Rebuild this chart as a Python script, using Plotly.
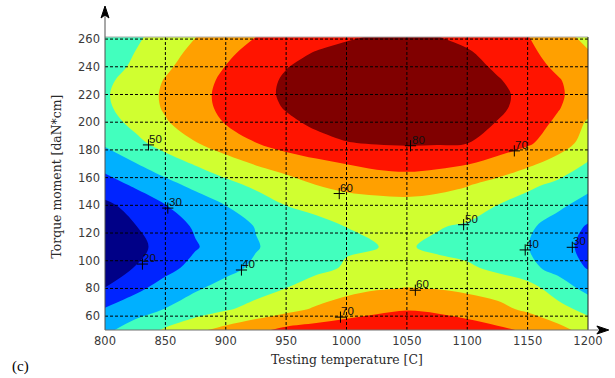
import plotly.graph_objects as go

# ---- data ----
temperature = [800, 825, 850, 875, 900, 925, 950, 975, 1000, 1025, 1050,
               1075, 1100, 1125, 1150, 1175, 1200]
torque = [50, 65, 80, 95, 110, 125, 140, 155, 170, 185, 200, 210, 220, 230, 240, 250, 262]
response = [
    [37.8, 44.6, 51.3, 57.9, 63.1, 67.6, 72.5, 74.4, 75.8, 76.7, 77.0, 76.0, 74.5, 72.0, 68.6, 63.0, 56.5],  # 50
    [30.8, 35.7, 40.3, 44.7, 49.0, 53.1, 57.1, 61.2, 65.0, 67.8, 69.5, 68.5, 66.0, 62.4, 58.4, 53.4, 47.0],  # 65
    [20.3, 27.8, 33.8, 39.0, 42.9, 46.5, 50.1, 54.0, 57.0, 59.2, 60.3, 59.6, 58.0, 56.5, 54.0, 45.4, 37.0],  # 80
    [13.3, 20.3, 27.2, 32.8, 37.5, 41.5, 44.7, 47.8, 50.8, 52.6, 53.5, 52.7, 51.5, 47.8, 42.7, 36.5, 29.3],  # 95
    [11.4, 17.4, 23.3, 29.3, 34.4, 39.4, 43.5, 46.6, 49.2, 49.95, 50.7, 48.5, 46.5, 43.2, 40.3, 33.7, 27.1],  # 110
    [13.8, 19.7, 25.5, 31.1, 35.8, 40.4, 43.7, 47.0, 50.1, 51.3, 51.9, 50.6, 49.0, 45.5, 41.6, 36.3, 29.1],  # 125
    [18.0, 23.3, 29.8, 34.9, 40.1, 45.0, 50.1, 52.8, 55.0, 56.3, 57.0, 56.0, 54.0, 49.9, 45.8, 41.8, 36.5],  # 140
    [25.6, 31.6, 37.3, 42.5, 47.5, 52.0, 56.3, 60.2, 63.0, 64.2, 64.5, 63.2, 60.7, 56.8, 52.2, 48.0, 42.6],  # 155
    [33.8, 39.6, 45.3, 50.8, 55.9, 60.7, 64.0, 67.5, 70.2, 72.3, 73.5, 72.4, 70.5, 66.5, 61.8, 56.5, 49.2],  # 170
    [41.5, 47.5, 53.9, 59.6, 65.1, 69.9, 74.5, 77.5, 79.7, 80.6, 81.0, 80.8, 80.2, 75.8, 71.5, 64.5, 56.5],  # 185
    [46.0, 52.6, 59.2, 65.1, 70.6, 74.6, 78.4, 81.6, 83.5, 84.4, 84.8, 84.0, 82.5, 79.8, 75.5, 68.2, 58.9],  # 200
    [48.3, 54.5, 61.0, 66.7, 72.1, 76.5, 80.5, 83.4, 85.4, 86.4, 86.6, 85.7, 84.0, 81.3, 77.6, 70.7, 63.0],  # 210
    [49.0, 55.0, 61.4, 67.1, 72.5, 77.2, 81.4, 84.2, 86.3, 87.3, 87.4, 86.4, 84.6, 81.6, 78.0, 71.5, 65.0],  # 220
    [48.0, 54.1, 60.6, 66.3, 71.9, 76.8, 81.1, 83.9, 86.1, 87.2, 87.3, 86.3, 84.3, 80.7, 76.7, 70.8, 65.0],  # 230
    [45.3, 51.8, 58.4, 64.4, 70.2, 75.2, 79.7, 82.6, 84.8, 86.0, 86.3, 85.2, 83.0, 78.7, 73.7, 68.4, 63.0],  # 240
    [44.0, 50.2, 56.5, 62.5, 68.2, 73.2, 77.6, 80.5, 82.6, 84.1, 84.6, 83.4, 81.0, 76.8, 72.0, 66.5, 60.8],  # 250
    [43.0, 48.4, 53.8, 59.8, 64.9, 69.9, 74.0, 76.7, 78.8, 80.6, 81.5, 80.1, 77.5, 74.2, 70.3, 63.8, 57.2],  # 262
]

level_start, level_end, level_step = 20, 80, 10
band_colors = [
    "rgb(0,0,135)", "rgb(0,36,255)", "rgb(0,176,255)", "rgb(66,255,190)",
    "rgb(208,255,48)", "rgb(255,160,0)", "rgb(255,20,0)", "rgb(128,0,0)",
]

label_x = [836, 852, 831, 913, 994, 1053, 1139, 1097, 1148, 1187, 1057, 995]
label_y = [183.6, 138, 97.6, 93.3, 148.5, 183, 179.3, 126, 107.8, 109.7, 78.7, 59.3]
label_text = ["50", "30", "20", "40", "60", "80", "70", "50", "40", "30", "60", "70"]

x_ticks = [800, 850, 900, 950, 1000, 1050, 1100, 1150, 1200]
y_ticks = [60, 80, 100, 120, 140, 160, 180, 200, 220, 240, 260]

x_title = "Testing temperature [C]"
y_title = "Torque moment [daN*cm]"
panel_tag = "(c)"

# ---- figure ----
n = len(band_colors) - 1
colorscale = [[i / n, c] for i, c in enumerate(band_colors)]

fig = go.Figure()
fig.add_trace(go.Contour(
    x=temperature, y=torque, z=response,
    autocontour=False,
    contours=dict(start=level_start, end=level_end, size=level_step,
                  coloring="fill", showlines=False),
    colorscale=colorscale, showscale=False,
    line=dict(width=0, smoothing=1.0),
    hoverinfo="skip",
))
fig.add_trace(go.Scatter(
    x=label_x, y=label_y, mode="markers",
    marker=dict(symbol="cross-thin-open", size=8,
                line=dict(width=1, color="black"), color="black"),
    hoverinfo="skip", showlegend=False,
))

shapes = []
grid_line = dict(color="black", width=1, dash="3px,2px")
for xv in x_ticks[1:-1]:
    shapes.append(dict(type="line", xref="x", yref="paper", x0=xv, x1=xv,
                       y0=0, y1=1, line=grid_line, layer="above"))
for yv in y_ticks:
    shapes.append(dict(type="line", xref="paper", yref="y", x0=0, x1=1,
                       y0=yv, y1=yv, line=grid_line, layer="above"))
# frame
shapes.append(dict(type="line", xref="paper", yref="paper", x0=0, x1=1, y0=1, y1=1,
                   line=dict(color="#a8a8a8", width=1), layer="above"))
shapes.append(dict(type="line", xref="paper", yref="paper", x0=1, x1=1, y0=0, y1=1,
                   line=dict(color="#202020", width=1), layer="above"))
# axes with arrows
shapes.append(dict(type="line", xref="paper", yref="paper", x0=0, x1=0, y0=0, y1=1.09,
                   line=dict(color="#505050", width=1), layer="above"))
shapes.append(dict(type="line", xref="paper", yref="paper", x0=0, x1=1.035, y0=0, y1=0,
                   line=dict(color="#707070", width=1), layer="above"))
shapes.append(dict(type="path", xref="paper", yref="paper",
                   path="M 0 1.1058 L -0.0082 1.0648 L 0 1.0751 L 0.0082 1.0648 Z",
                   fillcolor="black", line=dict(color="black", width=1), layer="above"))
shapes.append(dict(type="path", xref="paper", yref="paper",
                   path="M 1.043 0 L 1.0184 0.0137 L 1.0246 0 L 1.0184 -0.0137 Z",
                   fillcolor="black", line=dict(color="black", width=1), layer="above"))

annotations = []
for lx, ly, lt in zip(label_x, label_y, label_text):
    annotations.append(dict(x=lx, y=ly, xref="x", yref="y", text=lt, showarrow=False,
                            xanchor="left", yanchor="bottom", xshift=-1, yshift=-2,
                            font=dict(family="Liberation Sans", size=11.5, color="#111111")))
title_font = dict(family="DejaVu Serif", size=12.4, color="#2a2a2a")
annotations.append(dict(x=0.5, y=-0.099, xref="paper", yref="paper", text=x_title,
                        showarrow=False, xanchor="center", yanchor="middle", font=title_font))
annotations.append(dict(x=-0.0984, y=0.5256, xref="paper", yref="paper", text=y_title,
                        showarrow=False, xanchor="center", yanchor="middle",
                        textangle=-90, font=title_font))
annotations.append(dict(x=-0.174, y=-0.123, xref="paper", yref="paper", text=panel_tag,
                        showarrow=False, xanchor="center", yanchor="middle",
                        font=dict(family="Liberation Serif", size=15, color="black")))

tick_font = dict(family="DejaVu Sans", size=11.5, color="#3a3a3a")
fig.update_layout(
    width=615, height=378, autosize=False,
    margin=dict(l=105, r=22, t=37, b=48, pad=0),
    paper_bgcolor="white", plot_bgcolor="white",
    showlegend=False,
    shapes=shapes, annotations=annotations,
    xaxis=dict(range=[800, 1200], tickvals=x_ticks, showgrid=False, zeroline=False,
               showline=False, ticks="", tickfont=tick_font, ticklabelstandoff=2),
    yaxis=dict(range=[50, 261.5], tickvals=y_ticks, showgrid=False, zeroline=False,
               showline=False, ticks="", tickfont=tick_font, ticklabelstandoff=4),
)

fig.write_html("out.html", config={"displayModeBar": False},
               post_script="document.body.style.margin='0';")
